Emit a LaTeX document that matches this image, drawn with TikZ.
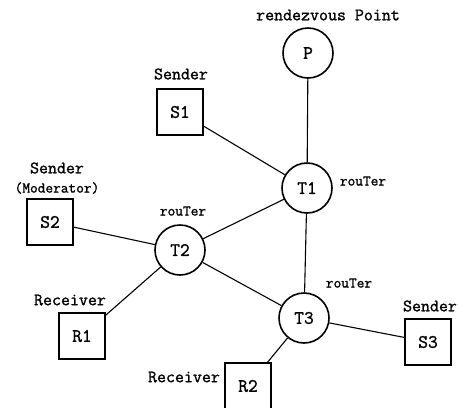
\documentclass[tikz,border=0pt]{standalone}
\usepackage{fontspec}
\setmonofont{Latin Modern Mono}[AutoFakeBold=1.3]
\begin{document}
\begin{tikzpicture}[x=1bp,y=-1bp,
  router/.style={circle,draw,line width=1.6bp,minimum size=50bp,inner sep=0pt,font=\ttfamily\bfseries\fontsize{19}{19}\selectfont},
  host/.style={rectangle,draw,line width=1.6bp,minimum size=46bp,inner sep=0pt,font=\ttfamily\bfseries\fontsize{19}{19}\selectfont},
  lbl/.style={inner sep=0pt,font=\ttfamily\bfseries\fontsize{17.5}{18}\selectfont},
  small/.style={inner sep=0pt,font=\ttfamily\bfseries\fontsize{15}{16}\selectfont},
  link/.style={line width=1.1bp}]
\useasboundingbox (0,0) rectangle (458,407);

% routers and rendezvous point
\node[router] (P)  at (308,53)  {P};
\node[router] (T1) at (307,188) {T1};
\node[router] (T2) at (180,250) {T2};
\node[router] (T3) at (304,318) {T3};

% end hosts
\node[host] (S1) at (180,112) {S1};
\node[host] (S2) at (50,222)  {S2};
\node[host] (R1) at (82,336)  {R1};
\node[host] (S3) at (428,342) {S3};
\node[host] (R2) at (248,386) {R2};

% labels
\node[lbl] (lP)  at (328,15)  {rendezvous Point};
\node[lbl] (lS1) at (181,74)  {Sender};
\node[lbl] (lS2) at (57,168)  {Sender};
\node[small] (lS2b) at (57,188) {(Moderator)};
\node[small] (lT1) at (363,181) {rouTer};
\node[small] (lT2) at (183,211) {rouTer};
\node[small] (lT3) at (349,283) {rouTer};
\node[lbl] (lR1) at (70,300)  {Receiver};
\node[lbl] (lS3) at (430,306) {Sender};
\node[lbl] (lR2) at (184,377) {Receiver};

% links
\draw[link] (P) -- (T1);
\draw[link] (S1) -- (T1);
\draw[link] (T1) -- (T2);
\draw[link] (T1) -- (T3);
\draw[link] (S2) -- (T2);
\draw[link] (T2) -- (R1);
\draw[link] (T2) -- (T3);
\draw[link] (T3) -- (S3);
\draw[link] (T3) -- (R2);
\end{tikzpicture}
\end{document}
